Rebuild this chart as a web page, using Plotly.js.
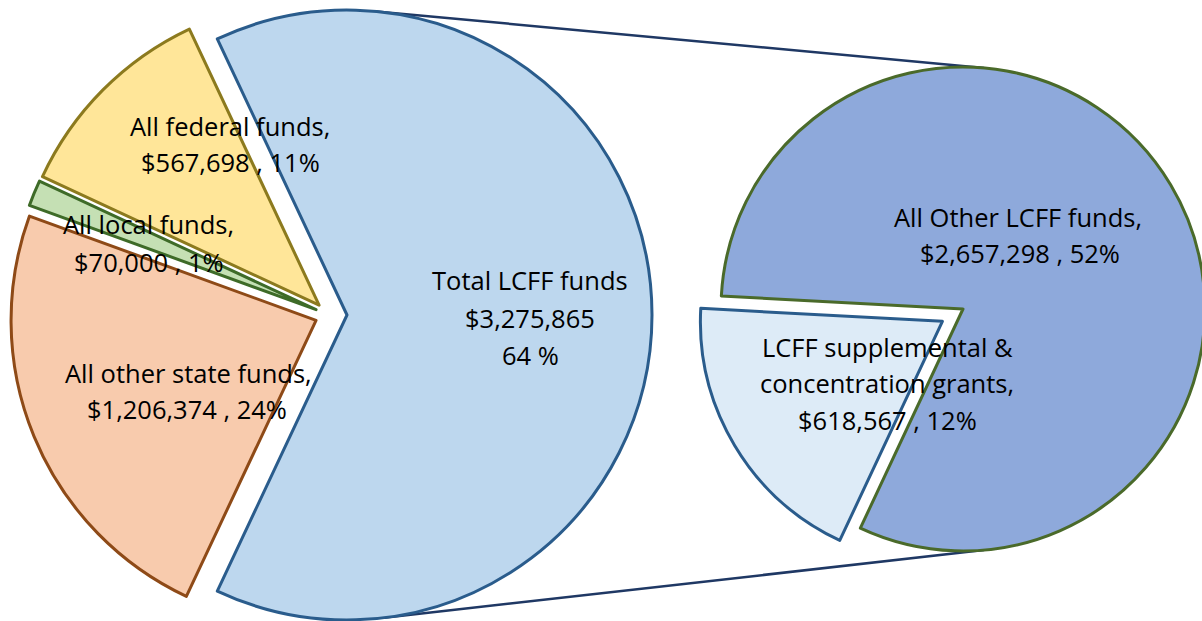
<!DOCTYPE html>
<html><head><meta charset="utf-8">
<script src="https://cdn.plot.ly/plotly-3.0.1.min.js"></script>
<style>
html,body{margin:0;padding:0;overflow:hidden;width:1202px;height:621px;background:#fff;}
#chart{position:absolute;left:0;top:-20px;width:1300px;height:680px;}
</style></head><body><div id="chart"></div>
<script>
// ---- data ----
const mainLabels = ["Total LCFF funds", "All other state funds", "All local funds", "All federal funds"];
const mainValues = [3275865, 1206374, 70000, 567698];
const mainPercents = ["64 %", "24%", "1%", "11%"];
const subLabels = ["LCFF supplemental & concentration grants", "All Other LCFF funds"];
const subValues = [618567, 2657298];
const subPercents = ["12%", "52%"];

// ---- styles ----
const mainFill = ["#BDD7EE", "#F8CBAD", "#C5E0B4", "#FFE699"];
const mainLine = ["#2A5C8C", "#8E4A17", "#3E6B28", "#8C7A1E"];
const subFill = ["#DDEBF7", "#8EA9DB"];
const subLine = ["#2A5C8C", "#4A6A2A"];

// ---- geometry (page pixels) ----
const W = 1300, H = 680, OFFY = 20;
function px(x){ return x / W; }
function py(y){ return 1 - (y + OFFY) / H; }
const LP = {cx: 329, cy: 315, r: 305, pulls: [18, 14, 14, 14]};
const RP = {cx: 963, cy: 309, r: 242, pulls: [24, 0]};
function dom(p){
  const h = p.r + Math.max.apply(null, p.pulls);
  return {x: [px(p.cx - h), px(p.cx + h)], y: [py(p.cy + h), py(p.cy - h)]};
}
const fmt = v => "$" + v.toLocaleString("en-US");
const mainTotal = mainValues.reduce((a, b) => a + b, 0);

const traces = [
  {type: "pie", labels: mainLabels, values: mainValues, sort: false, direction: "clockwise",
   rotation: 90 - 180 * mainValues[0] / mainTotal,
   pull: LP.pulls.map(v => v / LP.r), textinfo: "none", hoverinfo: "label+value+percent",
   marker: {colors: mainFill, line: {color: mainLine, width: 3}}, domain: dom(LP), showlegend: false},
  {type: "pie", labels: subLabels, values: subValues, sort: false, direction: "clockwise",
   rotation: -154.9,
   pull: RP.pulls.map(v => v / RP.r), textinfo: "none", hoverinfo: "label+value",
   marker: {colors: subFill, line: {color: subLine, width: 3}}, domain: dom(RP), showlegend: false}
];

// connector lines
const apexL = {x: LP.cx + LP.pulls[0], y: LP.cy};
const apexR = {x: RP.cx, y: RP.cy};
function onC(c, r, deg){ const a = deg * Math.PI / 180; return {x: c.x + r * Math.cos(a), y: c.y - r * Math.sin(a)}; }
const t1 = onC(apexL, LP.r, 84.5), t2 = onC(apexR, RP.r, 85);
const b1 = onC(apexL, LP.r, -83), b2 = onC(apexR, RP.r, -85);
const shapes = [[t1, t2], [b1, b2]].map(s => ({type: "line", xref: "paper", yref: "paper",
  x0: px(s[0].x), y0: py(s[0].y), x1: px(s[1].x), y1: py(s[1].y), layer: "below",
  line: {color: "#1F3864", width: 2.5}}));

// labels (line text, x, y in page px)
const font = {family: "Open Sans, Lato, sans-serif", size: 25.5, color: "#000"};
const lab = [
  ["All federal funds,", 230, 126], [fmt(mainValues[3]) + " , " + mainPercents[3], 230, 162],
  ["All local funds,", 148, 224], [fmt(mainValues[2]) + " , " + mainPercents[2], 149, 262],
  ["All other state funds,", 188, 373], [fmt(mainValues[1]) + " , " + mainPercents[1], 187, 409],
  [mainLabels[0], 530, 280], [fmt(mainValues[0]), 530, 318], [mainPercents[0], 530, 355],
  [subLabels[1] + ",", 1018, 217], [fmt(subValues[1]) + " , " + subPercents[1], 1020, 253],
  ["LCFF supplemental &", 887, 347], ["concentration grants,", 887, 383], [fmt(subValues[0]) + " , " + subPercents[0], 887, 420]
];
const annotations = lab.map(a => ({text: a[0], x: px(a[1]), y: py(a[2]), xref: "paper", yref: "paper",
  showarrow: false, xanchor: "center", yanchor: "middle", font: font}));

Plotly.newPlot("chart", traces, {
  width: W, height: H, margin: {l: 0, r: 0, t: 0, b: 0},
  paper_bgcolor: "#fff", plot_bgcolor: "#fff", shapes: shapes, annotations: annotations, showlegend: false
}, {displayModeBar: false, staticPlot: true});
</script></body></html>
